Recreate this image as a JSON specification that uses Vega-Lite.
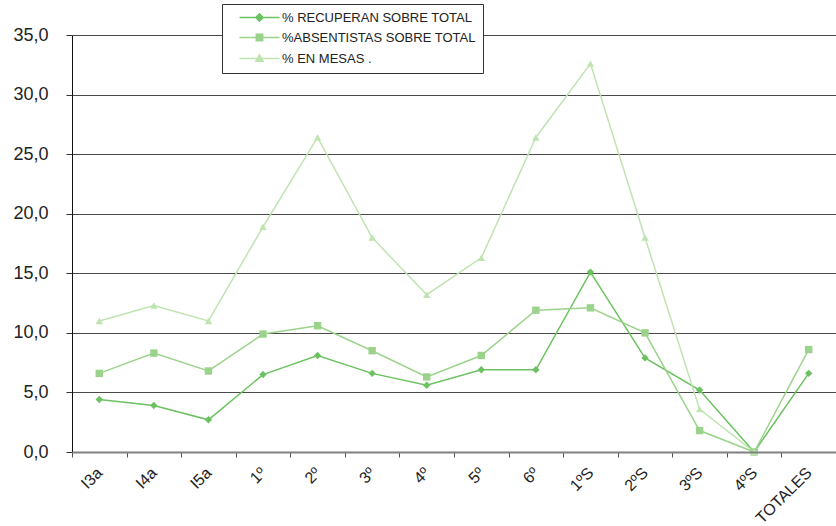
{
  "$schema": "https://vega.github.io/schema/vega-lite/v6.json",
  "autosize": "none",
  "width": 764,
  "height": 417,
  "padding": {"left": 72, "top": 35, "right": 0, "bottom": 74},
  "background": "white",
  "config": {
    "view": {"stroke": null},
    "font": "Liberation Sans"
  },
  "data": {
    "values": [
      {"curso": "I3a", "serie": "% RECUPERAN SOBRE TOTAL", "valor": 4.4},
      {"curso": "I4a", "serie": "% RECUPERAN SOBRE TOTAL", "valor": 3.9},
      {"curso": "I5a", "serie": "% RECUPERAN SOBRE TOTAL", "valor": 2.7},
      {"curso": "1º", "serie": "% RECUPERAN SOBRE TOTAL", "valor": 6.5},
      {"curso": "2º", "serie": "% RECUPERAN SOBRE TOTAL", "valor": 8.1},
      {"curso": "3º", "serie": "% RECUPERAN SOBRE TOTAL", "valor": 6.6},
      {"curso": "4º", "serie": "% RECUPERAN SOBRE TOTAL", "valor": 5.6},
      {"curso": "5º", "serie": "% RECUPERAN SOBRE TOTAL", "valor": 6.9},
      {"curso": "6º", "serie": "% RECUPERAN SOBRE TOTAL", "valor": 6.9},
      {"curso": "1ºS", "serie": "% RECUPERAN SOBRE TOTAL", "valor": 15.1},
      {"curso": "2ºS", "serie": "% RECUPERAN SOBRE TOTAL", "valor": 7.9},
      {"curso": "3ºS", "serie": "% RECUPERAN SOBRE TOTAL", "valor": 5.2},
      {"curso": "4ºS", "serie": "% RECUPERAN SOBRE TOTAL", "valor": 0.0},
      {"curso": "TOTALES", "serie": "% RECUPERAN SOBRE TOTAL", "valor": 6.6},
      {"curso": "I3a", "serie": "%ABSENTISTAS SOBRE TOTAL", "valor": 6.6},
      {"curso": "I4a", "serie": "%ABSENTISTAS SOBRE TOTAL", "valor": 8.3},
      {"curso": "I5a", "serie": "%ABSENTISTAS SOBRE TOTAL", "valor": 6.8},
      {"curso": "1º", "serie": "%ABSENTISTAS SOBRE TOTAL", "valor": 9.9},
      {"curso": "2º", "serie": "%ABSENTISTAS SOBRE TOTAL", "valor": 10.6},
      {"curso": "3º", "serie": "%ABSENTISTAS SOBRE TOTAL", "valor": 8.5},
      {"curso": "4º", "serie": "%ABSENTISTAS SOBRE TOTAL", "valor": 6.3},
      {"curso": "5º", "serie": "%ABSENTISTAS SOBRE TOTAL", "valor": 8.1},
      {"curso": "6º", "serie": "%ABSENTISTAS SOBRE TOTAL", "valor": 11.9},
      {"curso": "1ºS", "serie": "%ABSENTISTAS SOBRE TOTAL", "valor": 12.1},
      {"curso": "2ºS", "serie": "%ABSENTISTAS SOBRE TOTAL", "valor": 10.0},
      {"curso": "3ºS", "serie": "%ABSENTISTAS SOBRE TOTAL", "valor": 1.8},
      {"curso": "4ºS", "serie": "%ABSENTISTAS SOBRE TOTAL", "valor": 0.0},
      {"curso": "TOTALES", "serie": "%ABSENTISTAS SOBRE TOTAL", "valor": 8.6},
      {"curso": "I3a", "serie": "% EN MESAS .", "valor": 11.0},
      {"curso": "I4a", "serie": "% EN MESAS .", "valor": 12.3},
      {"curso": "I5a", "serie": "% EN MESAS .", "valor": 11.0},
      {"curso": "1º", "serie": "% EN MESAS .", "valor": 18.9},
      {"curso": "2º", "serie": "% EN MESAS .", "valor": 26.4},
      {"curso": "3º", "serie": "% EN MESAS .", "valor": 18.0},
      {"curso": "4º", "serie": "% EN MESAS .", "valor": 13.2},
      {"curso": "5º", "serie": "% EN MESAS .", "valor": 16.3},
      {"curso": "6º", "serie": "% EN MESAS .", "valor": 26.4},
      {"curso": "1ºS", "serie": "% EN MESAS .", "valor": 32.6},
      {"curso": "2ºS", "serie": "% EN MESAS .", "valor": 18.0},
      {"curso": "3ºS", "serie": "% EN MESAS .", "valor": 3.6},
      {"curso": "4ºS", "serie": "% EN MESAS .", "valor": 0.0}
    ]
  },
  "encoding": {
    "x": {
      "field": "curso",
      "type": "nominal",
      "sort": ["I3a", "I4a", "I5a", "1º", "2º", "3º", "4º", "5º", "6º", "1ºS", "2ºS", "3ºS", "4ºS", "TOTALES"],
      "scale": {"type": "band", "paddingInner": 0, "paddingOuter": 0},
      "axis": {
        "title": null,
        "labelAngle": -45,
        "labelAlign": "right",
        "labelBaseline": "middle",
        "labelFontSize": 16,
        "labelColor": "#222",
        "labelPadding": 13,
        "labelDx": 4,
        "tickBand": "extent",
        "tickSize": 5,
        "tickColor": "#555",
        "domainColor": "#808080",
        "domainWidth": 2,
        "grid": false,
        "zindex": 1
      }
    },
    "y": {
      "field": "valor",
      "type": "quantitative",
      "scale": {"domain": [0, 35], "nice": false},
      "axis": {
        "title": null,
        "values": [0, 5, 10, 15, 20, 25, 30, 35],
        "labelExpr": "replace(format(datum.value, '.1f'), '.', ',')",
        "labelFontSize": 18,
        "labelColor": "#222",
        "labelPadding": 18,
        "tickSize": 6,
        "tickColor": "#333",
        "domainColor": "#111",
        "grid": true,
        "gridColor": "#4a4a4a",
        "gridWidth": 1.2
      }
    },
    "color": {
      "field": "serie",
      "type": "nominal",
      "scale": {
        "domain": ["% RECUPERAN SOBRE TOTAL", "%ABSENTISTAS SOBRE TOTAL", "% EN MESAS ."],
        "range": ["#6cc260", "#9bd38c", "#bfe4b1"]
      },
      "legend": {
        "title": null,
        "orient": "none",
        "legendX": 150,
        "legendY": -31,
        "strokeColor": "#333",
        "fillColor": "white",
        "padding": 7,
        "rowPadding": 6,
        "symbolSize": 64,
        "symbolStrokeWidth": 1.5,
        "labelFontSize": 13,
        "labelColor": "#222",
        "labelOffset": 40,
        "labelLimit": 400,
        "labelExpr": "datum.label + '\u00a0\u00a0\u00a0\u00a0\u00a0'",
        "encode": {
          "symbols": {
            "update": {
              "shape": {"signal": "datum.value === '% RECUPERAN SOBRE TOTAL' ? 'M1,0H11M6,-0.9L6.9,0L6,0.9L5.1,0Z' : (datum.value === '%ABSENTISTAS SOBRE TOTAL' ? 'M1,0H11M5.2,-0.8H6.8V0.8H5.2Z' : 'M1,0H11M6,-0.9L6.9,0.7H5.1Z')"},
              "fill": {"scale": "color", "field": "value"},
              "stroke": {"scale": "color", "field": "value"},
              "opacity": {"value": 1},
              "fillOpacity": {"value": 1},
              "strokeWidth": {"value": 1.5}
            }
          }
        }
      }
    }
  },
  "layer": [
    {
      "mark": {"type": "line", "strokeWidth": 1.5}
    },
    {
      "transform": [{"filter": "datum.serie === '% RECUPERAN SOBRE TOTAL'"}],
      "mark": {"type": "point", "filled": true, "opacity": 1, "size": 55, "shape": "diamond"}
    },
    {
      "transform": [{"filter": "datum.serie === '%ABSENTISTAS SOBRE TOTAL'"}],
      "mark": {"type": "point", "filled": true, "opacity": 1, "size": 55, "shape": "square"}
    },
    {
      "transform": [{"filter": "datum.serie === '% EN MESAS .'"}],
      "mark": {"type": "point", "filled": true, "opacity": 1, "size": 55, "shape": "triangle-up"}
    }
  ]
}
